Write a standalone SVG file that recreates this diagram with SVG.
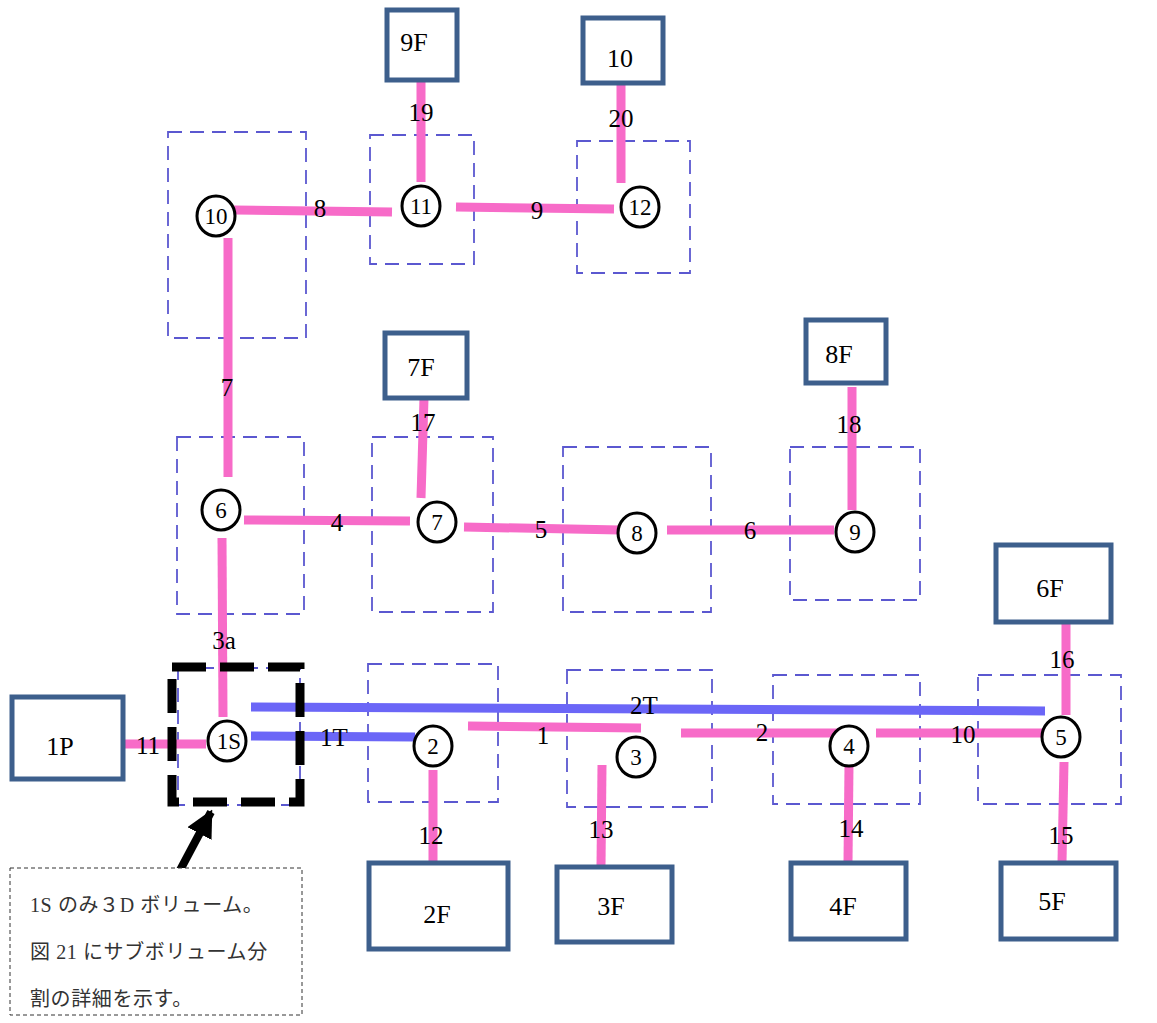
<svg xmlns="http://www.w3.org/2000/svg" width="1157" height="1023" viewBox="0 0 1157 1023">
<style>
.vol{fill:none;stroke:#5b58d0;stroke-width:1.8;stroke-dasharray:14 8}
.box{fill:#fff;stroke:#3d5f8c;stroke-width:5}
.nd{fill:#fff;stroke:#000;stroke-width:3}
.pk{stroke:#f76bc8;stroke-width:9;fill:none}
.bl{stroke:#6b66f7;stroke-width:9;fill:none}
text{font-family:"Liberation Serif","Noto Sans CJK JP",serif;fill:#000}
.lb{font-size:25px;text-anchor:middle}
.nt{font-size:23px;text-anchor:middle}
.bt{font-size:26px;text-anchor:middle}
.jp{font-size:20px;fill:#333;letter-spacing:0.6px}
</style>
<defs>
<marker id="ah" viewBox="0 0 10 10" refX="9" refY="5" markerWidth="3.4" markerHeight="3.4" orient="auto" markerUnits="strokeWidth">
<path d="M0,0 L10,5 L0,10 z" fill="#000"/>
</marker>
</defs>
<rect width="1157" height="1023" fill="#fff"/>
<g id="volumes">
<rect class="vol" x="168" y="132" width="138" height="206"/>
<rect class="vol" x="370" y="135" width="104" height="129"/>
<rect class="vol" x="577" y="141" width="113" height="132"/>
<rect class="vol" x="177" y="437" width="127" height="177"/>
<rect class="vol" x="372" y="437" width="121" height="175"/>
<rect class="vol" x="563" y="447" width="148" height="165"/>
<rect class="vol" x="790" y="447" width="130" height="153"/>
<rect class="vol" x="178" y="668" width="122" height="137"/>
<rect class="vol" x="368" y="664" width="130" height="138"/>
<rect class="vol" x="567" y="670" width="145" height="137"/>
<rect class="vol" x="773" y="675" width="147" height="129"/>
<rect class="vol" x="978" y="675" width="143" height="129"/>
</g>
<g id="connectors">
<line class="pk" x1="421" y1="70" x2="421" y2="182"/>
<line class="pk" x1="621" y1="80" x2="621" y2="183"/>
<line class="pk" x1="234" y1="210" x2="392" y2="212"/>
<line class="pk" x1="456" y1="207" x2="614" y2="209"/>
<line class="pk" x1="228" y1="238" x2="228" y2="477"/>
<line class="pk" x1="244" y1="520" x2="410" y2="521"/>
<line class="pk" x1="424" y1="398" x2="421" y2="498"/>
<line class="pk" x1="464" y1="527" x2="620" y2="530"/>
<line class="pk" x1="667" y1="530" x2="834" y2="530"/>
<line class="pk" x1="852" y1="387" x2="852" y2="510"/>
<line class="pk" x1="222" y1="538" x2="223" y2="717"/>
<line class="pk" x1="123" y1="744" x2="206" y2="744"/>
<line class="pk" x1="433" y1="770" x2="433" y2="862"/>
<line class="pk" x1="602" y1="765" x2="601" y2="866"/>
<line class="pk" x1="468" y1="726" x2="641" y2="728"/>
<line class="pk" x1="681" y1="733" x2="843" y2="733"/>
<line class="pk" x1="876" y1="733" x2="1042" y2="733"/>
<line class="pk" x1="849" y1="765" x2="848" y2="862"/>
<line class="pk" x1="1064" y1="762" x2="1062" y2="862"/>
<line class="pk" x1="1066" y1="624" x2="1066" y2="715"/>
<line class="bl" x1="251" y1="707" x2="1045" y2="711"/>
<line class="bl" x1="251" y1="736" x2="415" y2="737"/>
<line x1="178" y1="874" x2="211" y2="812" stroke="#000" stroke-width="8" marker-end="url(#ah)"/>
<text class="lb" x="421" y="121">19</text>
<text class="lb" x="621" y="127">20</text>
<text class="lb" x="320" y="217">8</text>
<text class="lb" x="537" y="219">9</text>
<text class="lb" x="227" y="396">7</text>
<text class="lb" x="337" y="531">4</text>
<text class="lb" x="423" y="431">17</text>
<text class="lb" x="541" y="538">5</text>
<text class="lb" x="750" y="539">6</text>
<text class="lb" x="849" y="433">18</text>
<text class="lb" x="224" y="649">3a</text>
<text class="lb" x="148" y="754">11</text>
<text class="lb" x="431" y="844">12</text>
<text class="lb" x="601" y="838">13</text>
<text class="lb" x="543" y="744">1</text>
<text class="lb" x="762" y="741">2</text>
<text class="lb" x="963" y="743">10</text>
<text class="lb" x="851" y="837">14</text>
<text class="lb" x="1061" y="844">15</text>
<text class="lb" x="1062" y="668">16</text>
<text class="lb" x="644" y="714">2T</text>
<text class="lb" x="334" y="746">1T</text>
</g>
<g id="highlight-1S">
<rect x="172" y="667" width="128" height="135" fill="none" stroke="#000" stroke-width="9" stroke-dasharray="34 14"/>
</g>
<g id="node-1P"><rect class="box" x="12" y="697" width="111" height="82"/><text class="bt" x="60" y="755">1P</text></g>
<g id="node-9F"><rect class="box" x="387" y="10" width="70" height="70"/><text class="bt" x="414" y="51">9F</text></g>
<g id="node-10F"><rect class="box" x="583" y="18" width="80" height="65"/><text class="bt" x="620" y="67">10</text></g>
<g id="node-7F"><rect class="box" x="385" y="333" width="82" height="65"/><text class="bt" x="421" y="376">7F</text></g>
<g id="node-8F"><rect class="box" x="806" y="320" width="80" height="63"/><text class="bt" x="839" y="363">8F</text></g>
<g id="node-6F"><rect class="box" x="996" y="545" width="115" height="77"/><text class="bt" x="1050" y="597">6F</text></g>
<g id="node-2F"><rect class="box" x="369" y="863" width="139" height="86"/><text class="bt" x="437" y="923">2F</text></g>
<g id="node-3F"><rect class="box" x="557" y="867" width="115" height="75"/><text class="bt" x="611" y="915">3F</text></g>
<g id="node-4F"><rect class="box" x="791" y="863" width="115" height="76"/><text class="bt" x="843" y="915">4F</text></g>
<g id="node-5F"><rect class="box" x="1001" y="863" width="115" height="76"/><text class="bt" x="1052" y="910">5F</text></g>
<g id="node-10"><ellipse class="nd" cx="216" cy="216" rx="19" ry="20"/><text class="nt" x="216" y="224">10</text></g>
<g id="node-11"><ellipse class="nd" cx="421" cy="206" rx="19" ry="20"/><text class="nt" x="421" y="214">11</text></g>
<g id="node-12"><ellipse class="nd" cx="640" cy="207" rx="19" ry="20"/><text class="nt" x="640" y="215">12</text></g>
<g id="node-6"><ellipse class="nd" cx="221" cy="510" rx="19" ry="20"/><text class="nt" x="221" y="518">6</text></g>
<g id="node-7"><ellipse class="nd" cx="437" cy="522" rx="19" ry="20"/><text class="nt" x="437" y="530">7</text></g>
<g id="node-8"><ellipse class="nd" cx="637" cy="533" rx="19" ry="20"/><text class="nt" x="637" y="541">8</text></g>
<g id="node-9"><ellipse class="nd" cx="855" cy="532" rx="19" ry="20"/><text class="nt" x="855" y="540">9</text></g>
<g id="node-1S"><ellipse class="nd" cx="227" cy="741" rx="19" ry="20"/><text class="nt" x="229" y="749">1S</text></g>
<g id="node-2"><ellipse class="nd" cx="433" cy="746" rx="19" ry="20"/><text class="nt" x="433" y="754">2</text></g>
<g id="node-3"><ellipse class="nd" cx="636" cy="757" rx="19" ry="20"/><text class="nt" x="636" y="765">3</text></g>
<g id="node-4"><ellipse class="nd" cx="849" cy="746" rx="19" ry="20"/><text class="nt" x="849" y="754">4</text></g>
<g id="node-5"><ellipse class="nd" cx="1061" cy="737" rx="19" ry="20"/><text class="nt" x="1061" y="745">5</text></g>
<g id="note">
<rect x="10" y="868" width="292" height="147" fill="#fff" stroke="#333" stroke-width="1" stroke-dasharray="4 3"/>
<text class="jp" x="30" y="912">1S のみ３D ボリューム。</text>
<text class="jp" x="30" y="959">図 21 にサブボリューム分</text>
<text class="jp" x="30" y="1006">割の詳細を示す。</text>
</g>
</svg>
